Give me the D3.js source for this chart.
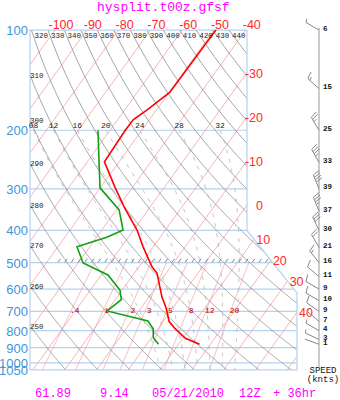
<!DOCTYPE html>
<html><head><meta charset="utf-8">
<script src="https://cdn.jsdelivr.net/npm/d3@7"></script>
<style>body{margin:0;background:#fff}svg{display:block}</style>
</head><body>
<svg id="c" width="340" height="400"></svg>
<script>
// ---------------- data ----------------
const titleText = "hysplit.t00z.gfsf";
const footerTexts = ["61.89", "9.14", "05/21/2010", "12Z", "+ 36hr"];
const footerX = [35, 100, 152, 239, 273];

const pressureLevels = [100, 200, 300, 400, 500, 600, 700, 800, 900, 1000, 1050];
const pressureLabels = ["100", "200", "300", "400", "500", "600", "700", "800", "900", "1000", "1050"];

const isothermValues = [-150, -140, -130, -120, -110, -100, -90, -80, -70, -60, -50, -40, -30, -20, -10, 0, 10, 20, 30, 40, 50];
const topTempLabels = [-100, -90, -80, -70, -60, -50, -40];
const sideTempLabels = [-30, -20, -10, 0, 10, 20, 30, 40];

const thetaValues = [250, 260, 270, 280, 290, 300, 310, 320, 330, 340, 350, 360, 370, 380, 390, 400, 410, 420, 430, 440];
const thetaWValues = [8, 12, 16, 20, 24, 28, 32];
const thetaWLabels = ["08", "12", "16", "20", "24", "28", "32"];
const mixRatios = [0.4, 1, 2, 3, 5, 8, 12, 20];
const mixLabels = [".4", "1", "2", "3", "5", "8", "12", "20"];

// temperature profile (hPa, degC)
const tempP = [100, 154, 174, 186, 200, 249, 298, 343, 399, 448, 515, 537, 634, 684, 751, 789, 843, 879];
const tempT = [-49.4, -49.8, -53.0, -55.1, -55.2, -54.6, -45.3, -37.7, -28.9, -23.2, -15.8, -12.9, -5.9, -2.1, 1.9, 5.4, 10.8, 16.6];
// dew point profile
const dewP = [200, 241, 298, 347, 399, 419, 448, 501, 544, 604, 645, 698, 748, 789, 840, 879];
const dewT = [-63.8, -57.4, -50.1, -39.1, -33.3, -36.8, -44.0, -38.4, -27.9, -20.7, -18.1, -20.0, -4.9, -1.5, 0.6, 3.7];

// winds
const windP = [100, 150, 200, 250, 300, 350, 400, 450, 500, 550, 600, 650, 700, 750, 800, 850, 879];
const windSpd = [6, 15, 25, 33, 39, 37, 30, 21, 16, 11, 9, 10, 9, 7, 4, 3, 1];
const windDir = [300, 312, 329, 331, 338, 338, 335, 330, 322, 310, 300, 300, 305, 310, 300, 295, 290];

// ---------------- scales ----------------
const svg = d3.select("#c");
const y = d3.scaleLog().domain([100, 1050]).range([30, 370]);
const xb = d3.scaleLinear().domain([0, 40]).range([128.2, 255.4]); // temperature at bottom
const skew = 0.72;
const X = (T, p) => xb(T) + skew * (y(1050) - y(p));

const frameLeft = 30, frameRight = 247, frameRight2 = 297, pBreak1 = 400, pBreak2 = 616;
const framePts = [[frameLeft, y(100)], [frameRight, y(100)], [frameRight, y(pBreak1)], [frameRight2, y(pBreak2)], [frameRight2, y(1050)], [frameLeft, y(1050)]];
const boundaryX = yy => yy <= y(pBreak1) ? frameRight :
  (yy <= y(pBreak2) ? frameRight + (yy - y(pBreak1)) * (frameRight2 - frameRight) / (y(pBreak2) - y(pBreak1)) : frameRight2);

// thermodynamics for background lines
const dryT = (th, p) => th * Math.pow(p / 1000, 0.2857) - 273.15;
const es = Tk => 6.112 * Math.exp(17.67 * (Tk - 273.15) / (Tk - 29.65));
function moistProfile(twC, pList) {
  const Rd = 287.04, Cp = 1005.7, Lv = 2.501e6, eps = 0.622;
  const f = (T, p) => { const e = es(T); const rs = eps * e / (p - e);
    return (Rd * T + Lv * rs) / (p * (Cp + Lv * Lv * rs * eps / (Rd * T * T))); };
  const out = {};
  const integ = (pStart, pEnd, step) => {
    let T = twC + 273.15;
    for (let p = pStart; step < 0 ? p > pEnd : p < pEnd; p += step) {
      out[Math.round(p)] = T - 273.15;
      const k1 = f(T, p), k2 = f(T + k1 * step, p + step);
      T += 0.5 * (k1 + k2) * step;
    }
    out[Math.round(pEnd)] = T - 273.15;
  };
  integ(1000, 200, -2);
  integ(1000, 1050, 2);
  return pList.map(p => ({p, T: out[p]})).filter(d => d.T !== undefined);
}
const mixT = (w, p) => { const e = w * p / (622 + w); const l = Math.log(e / 6.112); return 243.5 * l / (17.67 - l); };
function solve(f, a, b) { let fa = f(a); for (let i = 0; i < 60; i++) { const m = (a + b) / 2, fm = f(m); if (fa * fm <= 0) b = m; else { a = m; fa = fm; } } return (a + b) / 2; }

const line = d3.line().x(d => X(d.T, d.p)).y(d => y(d.p));
const pFine = d3.range(100, 1051, 2);

// ---------------- clip ----------------
svg.append("clipPath").attr("id", "frame").append("polygon").attr("points", framePts.map(d => d.join(",")).join(" "));
const gc = svg.append("g").attr("clip-path", "url(#frame)");

// isobars
gc.selectAll(".isobar").data(pressureLevels).join("line")
  .attr("x1", frameLeft).attr("x2", frameRight2).attr("y1", d => y(d)).attr("y2", d => y(d))
  .attr("stroke", "#b3d3ef").attr("stroke-width", 1.2);

// isotherms
gc.selectAll(".iso").data(isothermValues).join("path")
  .attr("d", T => line([{T, p: 100}, {T, p: 1050}]))
  .attr("fill", "none").attr("stroke", "#f2a2a2").attr("stroke-width", 0.8);

// mixing ratio lines
gc.selectAll(".mix").data(mixRatios).join("path")
  .attr("d", w => line(pFine.filter(p => p >= 500).map(p => ({p, T: mixT(w, p)}))))
  .attr("fill", "none").attr("stroke", "#f2a2a2").attr("stroke-width", 0.8);

// dry adiabats
gc.selectAll(".dry").data(thetaValues).join("path")
  .attr("d", th => line(pFine.map(p => ({p, T: dryT(th, p)}))))
  .attr("fill", "none").attr("stroke", "#8c8c8c").attr("stroke-width", 0.8);

// moist adiabats
const pMoist = d3.range(200, 1051, 2);
gc.selectAll(".moist").data(thetaWValues).join("path")
  .attr("d", tw => line(moistProfile(tw, pMoist)))
  .attr("fill", "none").attr("stroke", "#b0b0b0").attr("stroke-width", 0.8).attr("stroke-dasharray", "4,6");

// hatch at 500 hPa
const hatchX = d3.range(58, 266, 6.7);
gc.selectAll(".hatch").data(hatchX).join("line")
  .attr("x1", d => d).attr("y1", y(500) - 0.5).attr("x2", d => d + 2.5).attr("y2", y(500) - 4)
  .attr("stroke", "#666").attr("stroke-width", 0.8);

// frame
svg.append("polygon").attr("points", framePts.map(d => d.join(",")).join(" "))
  .attr("fill", "none").attr("stroke", "#b3d3ef").attr("stroke-width", 1.2);

// profiles
const tempData = tempP.map((p, i) => ({p, T: tempT[i]}));
const dewData = dewP.map((p, i) => ({p, T: dewT[i]}));
svg.append("path").attr("d", line(tempData)).attr("fill", "none").attr("stroke", "#ff0000").attr("stroke-width", 1.6);
svg.append("path").attr("d", line(dewData)).attr("fill", "none").attr("stroke", "#11a011").attr("stroke-width", 1.6);

// ---------------- labels ----------------
const mono = "'Liberation Mono','DejaVu Sans Mono',monospace";
const sans = "'Liberation Sans',Arial,sans-serif";

svg.selectAll(".plab").data(pressureLevels).join("text")
  .attr("x", 28).attr("y", d => y(d) + 5).attr("text-anchor", "end")
  .attr("font-family", sans).attr("font-size", 13).attr("fill", "#3d95db")
  .text((d, i) => pressureLabels[i]);

svg.selectAll(".ttop").data(topTempLabels).join("text")
  .attr("x", T => X(T, 100) + 6).attr("y", 29).attr("text-anchor", "middle")
  .attr("font-family", sans).attr("font-size", 12.5).attr("fill", "#ff2a2a")
  .text(T => String(T));

svg.selectAll(".tside").data(sideTempLabels).join("text")
  .each(function (T) {
    const p = solve(pp => X(T, pp) - boundaryX(y(pp)), 100, 1050);
    d3.select(this).attr("x", boundaryX(y(p)) + 16).attr("y", y(p) + 5);
  })
  .attr("text-anchor", "end").attr("font-family", sans).attr("font-size", 12.5).attr("fill", "#ff2a2a")
  .text(T => String(T));

// dry adiabat labels
svg.selectAll(".thl").data(thetaValues).join("text")
  .each(function (th) {
    const xTop = X(dryT(th, 100), 100);
    const s = d3.select(this);
    if (xTop >= frameLeft) s.attr("x", xTop + 3).attr("y", 38);
    else { const p = solve(pp => X(dryT(th, pp), pp) - frameLeft, 100, 1050); s.attr("x", frameLeft).attr("y", y(p) + 3); }
  })
  .attr("font-family", mono).attr("font-size", 7.5).attr("fill", "#222")
  .text(th => String(th));

// moist adiabat labels at 200 hPa
svg.selectAll(".mwl").data(thetaWValues).join("text")
  .attr("x", tw => X(moistProfile(tw, [200])[0].T, 200)).attr("y", y(200) - 2).attr("text-anchor", "middle")
  .attr("font-family", mono).attr("font-size", 8).attr("fill", "#222")
  .text((tw, i) => thetaWLabels[i]);

// mixing ratio labels at 700 hPa
svg.selectAll(".mrl").data(mixRatios).join("text")
  .attr("x", w => X(mixT(w, 700), 700) + 4).attr("y", y(700) + 1.5).attr("text-anchor", "middle")
  .attr("font-family", mono).attr("font-size", 8).attr("fill", "#b00000")
  .text((w, i) => mixLabels[i]);

// ---------------- winds ----------------
const staffX = 319;
svg.append("line").attr("x1", staffX).attr("x2", staffX).attr("y1", y(100) - 2).attr("y2", y(1050) - 3)
  .attr("stroke", "#999").attr("stroke-width", 1);

const barbPath = (x0, y0, spd, dir) => {
  const L = 15, fl = 7, sp = 2.6;
  const r = dir * Math.PI / 180, ux = Math.sin(r), uy = -Math.cos(r);
  const fx = -uy, fy = ux;
  const tx = x0 + ux * L, ty = y0 + uy * L;
  let d = `M${x0},${y0}L${tx},${ty}`;
  const s = Math.round(spd / 5) * 5;
  const full = Math.floor(s / 10), half = s % 10 >= 5;
  let pos = 0;
  for (let i = 0; i < full; i++) {
    const bx = tx - ux * pos, by = ty - uy * pos;
    d += `M${bx},${by}L${bx + fx * fl + ux * fl * 0.3},${by + fy * fl + uy * fl * 0.3}`;
    pos += sp;
  }
  if (half) {
    if (full === 0) pos = 0;
    const bx = tx - ux * pos, by = ty - uy * pos;
    d += `M${bx},${by}L${bx + fx * fl * 0.5 + ux * fl * 0.15},${by + fy * fl * 0.5 + uy * fl * 0.15}`;
  }
  return d;
};
svg.selectAll(".barb").data(windP).join("path")
  .attr("d", (p, i) => barbPath(staffX, y(p), windSpd[i], windDir[i]))
  .attr("fill", "none").attr("stroke", "#888").attr("stroke-width", 1);

svg.selectAll(".spd").data(windP).join("text")
  .attr("x", 323).attr("y", p => y(p) + 0.5)
  .attr("font-family", mono).attr("font-size", 7.5).attr("font-weight", "bold").attr("fill", "#111")
  .text((p, i) => String(windSpd[i]));

svg.append("text").attr("x", 323).attr("y", 373).attr("text-anchor", "middle")
  .attr("font-family", mono).attr("font-size", 9).attr("fill", "#111").text("SPEED");
svg.append("text").attr("x", 323).attr("y", 382).attr("text-anchor", "middle")
  .attr("font-family", mono).attr("font-size", 9).attr("fill", "#111").text("(knts)");

// ---------------- title / footer ----------------
svg.append("text").attr("x", 97).attr("y", 10.5)
  .attr("font-family", mono).attr("font-size", 13).attr("fill", "#ff00ff").text(titleText);
svg.selectAll(".foot").data(footerTexts).join("text")
  .attr("x", (d, i) => footerX[i]).attr("y", 397)
  .attr("font-family", mono).attr("font-size", 12).attr("fill", "#ff00ff").text(d => d);
</script>
</body></html>
